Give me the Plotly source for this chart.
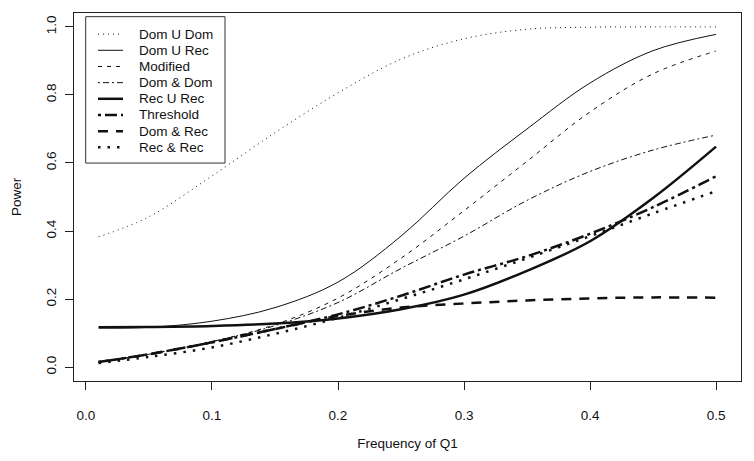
import plotly.graph_objects as go

# ---- data ----
freq_q1 = [0.01, 0.05, 0.10, 0.15, 0.20, 0.25, 0.30, 0.35, 0.40, 0.45, 0.50]

dom_u_dom = [0.383, 0.442, 0.562, 0.689, 0.806, 0.905, 0.965, 0.993, 0.999, 1.000, 1.000]
dom_u_rec = [0.115, 0.117, 0.135, 0.175, 0.250, 0.385, 0.555, 0.700, 0.835, 0.930, 0.978]
modified = [0.015, 0.038, 0.075, 0.125, 0.203, 0.320, 0.460, 0.605, 0.750, 0.862, 0.929]
dom_and_dom = [0.015, 0.038, 0.075, 0.122, 0.190, 0.290, 0.385, 0.490, 0.575, 0.638, 0.682]
rec_u_rec = [0.117, 0.118, 0.121, 0.128, 0.143, 0.170, 0.213, 0.283, 0.370, 0.497, 0.648]
threshold = [0.015, 0.038, 0.073, 0.112, 0.155, 0.210, 0.272, 0.326, 0.392, 0.470, 0.561]
dom_and_rec = [0.015, 0.038, 0.073, 0.112, 0.150, 0.175, 0.187, 0.196, 0.202, 0.205, 0.204]
rec_and_rec = [0.012, 0.030, 0.058, 0.098, 0.145, 0.200, 0.258, 0.320, 0.385, 0.452, 0.517]

series_names = ["Dom U Dom", "Dom U Rec", "Modified", "Dom & Dom",
                "Rec U Rec", "Threshold", "Dom & Rec", "Rec & Rec"]
series_values = [dom_u_dom, dom_u_rec, modified, dom_and_dom,
                 rec_u_rec, threshold, dom_and_rec, rec_and_rec]

x_tick_vals = [0.0, 0.1, 0.2, 0.3, 0.4, 0.5]
x_tick_text = ["0.0", "0.1", "0.2", "0.3", "0.4", "0.5"]
y_tick_vals = [0.0, 0.2, 0.4, 0.6, 0.8, 1.0]
y_tick_text = ["0.0", "0.2", "0.4", "0.6", "0.8", "1.0"]

# ---- styles ----
styles = [
    dict(width=1.0, dash="1px,4px"),
    dict(width=1.0, dash="solid"),
    dict(width=1.0, dash="4px,5px"),
    dict(width=1.0, dash="2px,3px,6px,3px"),
    dict(width=2.5, dash="solid"),
    dict(width=2.5, dash="3px,4px,12px,4px"),
    dict(width=2.5, dash="10px,8px"),
    dict(width=2.5, dash="2.5px,7px"),
]

FONT = "Liberation Sans, Arial, Helvetica, sans-serif"
INK = "#111111"

# page body has an 8px margin; figure sized so the page fits the window
FIG_W, FIG_H = 738, 445
M_L, M_R, M_T, M_B = 66, 5, 4, 70
PLOT_W = FIG_W - M_L - M_R
PLOT_H = FIG_H - M_T - M_B
OFF = 8


def px_to_paper(sx, sy):
    return (sx - OFF - M_L) / PLOT_W, (OFF + M_T + PLOT_H - sy) / PLOT_H


fig = go.Figure()
for name, vals, st in zip(series_names, series_values, styles):
    fig.add_trace(go.Scatter(
        x=freq_q1, y=vals, name=name, mode="lines", showlegend=False,
        line=dict(color=INK, width=st["width"], dash=st["dash"], shape="spline", smoothing=1.0),
    ))

# ---- legend box (drawn like R's legend) ----
shapes = []
annotations = []
bx0, by0 = px_to_paper(85.7, 15.7)
bx1, by1 = px_to_paper(225.0, 163.3)
shapes.append(dict(type="rect", xref="paper", yref="paper", x0=bx0, y0=by1, x1=bx1, y1=by0,
                   line=dict(color="#333333", width=1), fillcolor="white", layer="above"))
for i, (name, st) in enumerate(zip(series_names, styles)):
    sy = 33.3 + 16.3 * i
    lx0, ly = px_to_paper(98.0, sy)
    lx1, _ = px_to_paper(123.0, sy)
    tx, _ = px_to_paper(136.5, sy)
    shapes.append(dict(type="line", xref="paper", yref="paper", x0=lx0, x1=lx1, y0=ly, y1=ly,
                       line=dict(color=INK, width=st["width"], dash=st["dash"]), layer="above"))
    annotations.append(dict(text=name, xref="paper", yref="paper", x=tx, y=ly,
                            xanchor="left", yanchor="middle", showarrow=False,
                            font=dict(family=FONT, size=13.5, color=INK)))

axis_common = dict(
    showline=True, linecolor="#222222", linewidth=1, mirror=True,
    ticks="outside", ticklen=8, tickwidth=1, tickcolor="#222222",
    showgrid=False, zeroline=False,
    tickfont=dict(family=FONT, size=13.5, color=INK),
)

fig.update_layout(
    width=FIG_W, height=FIG_H,
    margin=dict(l=M_L, r=M_R, t=M_T, b=M_B),
    paper_bgcolor="white", plot_bgcolor="white",
    font=dict(family=FONT, size=13.5, color=INK),
    showlegend=False,
    shapes=shapes,
    annotations=annotations,
    xaxis=dict(
        range=[-0.0095, 0.5198],
        tickvals=x_tick_vals, ticktext=x_tick_text,
        title=dict(text="Frequency of Q1", standoff=16, font=dict(family=FONT, size=13.5, color=INK)),
        ticklabelstandoff=14,
        **axis_common,
    ),
    yaxis=dict(
        range=[-0.0407, 1.0407],
        tickvals=y_tick_vals, ticktext=y_tick_text, tickangle=-90,
        title=dict(text="Power", standoff=18, font=dict(family=FONT, size=13.5, color=INK)),
        ticklabelstandoff=4,
        **axis_common,
    ),
)

fig.write_html("out.html")
